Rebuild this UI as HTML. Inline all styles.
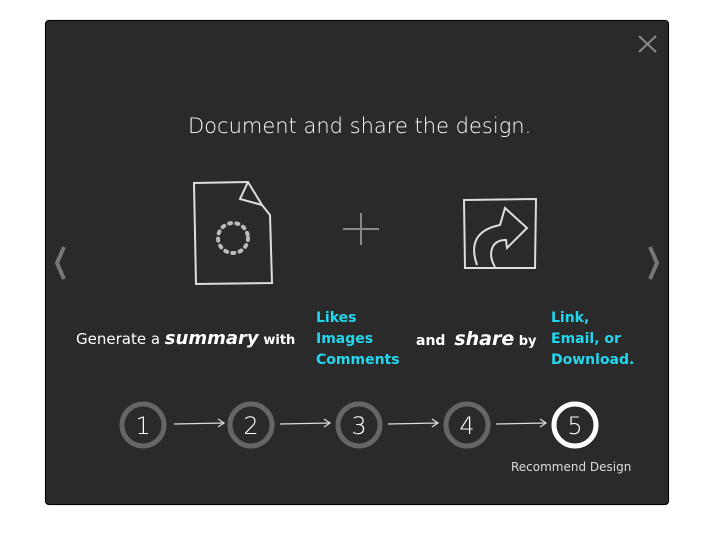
<!DOCTYPE html>
<html><head><style>
body{margin:0;width:722px;height:540px;background:#fff;position:relative;font-family:"DejaVu Sans","Liberation Sans",sans-serif;overflow:hidden}
#p{position:absolute;left:45px;top:20px;width:622px;height:483px;background:#2a2a2a;border:1px solid #000;border-radius:4px;box-shadow:0 0 1px #888}
.t{position:absolute;color:#fff;white-space:nowrap}
.c{color:#22d8f0;font-weight:bold;font-size:14px;line-height:21px}
</style></head><body>
<div id="p"></div>
<svg style="position:absolute;left:0;top:0" width="722" height="540">
<g stroke="#888" stroke-width="2"><line x1="639" y1="36" x2="656" y2="52"/><line x1="656" y1="36" x2="639" y2="52"/></g>
<g fill="none" stroke="#777" stroke-width="4"><polyline points="64,247 57,263 64,279"/><polyline points="650,247 657,263 650,279"/></g>
<g fill="none" stroke="#ddd" stroke-width="2">
<path d="M194,183 L248,182 L262,205 L270,215 L272,283 L196,284 Z"/>
<path d="M248,182 L240,199 L262,205"/>
<path d="M464,200 L536,199 L535,268 L465,268 Z"/>
<path d="M477,265 C470,245 475,230 500,225 L505,208 L527,228 L507,248 L506,240 C490,240 488,255 495,267"/>
</g>
<g stroke="#888" stroke-width="2"><line x1="343" y1="229" x2="379" y2="229"/><line x1="361" y1="213" x2="361" y2="245"/></g>
<g fill="none" stroke="#bbb" stroke-width="4" stroke-linecap="round">
<circle cx="233" cy="238" r="15" stroke-dasharray="2 5.4"/>
</g>
<g fill="none" stroke="#666" stroke-width="5">
<circle cx="143" cy="425" r="21"/><circle cx="251" cy="425" r="21"/><circle cx="359" cy="425" r="21"/><circle cx="467" cy="425" r="21"/>
</g>
<circle cx="575" cy="425" r="21" fill="none" stroke="#fff" stroke-width="5"/>
<g stroke="#ddd" stroke-width="1.2" fill="none">
<line x1="174" y1="424" x2="224" y2="423"/><polyline points="218,419 224,423 218,427"/>
<line x1="280" y1="424" x2="330" y2="423"/><polyline points="324,419 330,423 324,427"/>
<line x1="388" y1="424" x2="438" y2="423"/><polyline points="432,419 438,423 432,427"/>
<line x1="496" y1="424" x2="546" y2="423"/><polyline points="540,419 546,423 540,427"/>
</g>
<g fill="#fff" font-family="DejaVu Sans,sans-serif" font-size="24" font-weight="200" text-anchor="middle">
<text x="143" y="434">1</text><text x="251" y="434">2</text><text x="359" y="434">3</text><text x="467" y="434">4</text><text x="575" y="434">5</text>
</g>
</svg>
<div class="t" style="left:188px;top:114px;font-size:21px;font-weight:300">Document and share the design.</div>
<div class="t" style="left:76px;top:328px;font-size:15px">Generate a <b style="font-style:italic;font-size:18px">summary</b> <b style="font-size:13px">with</b></div>
<div class="t c" style="left:316px;top:308px">Likes<br>Images<br>Comments</div>
<div class="t" style="left:416px;top:328px;font-size:14px"><b>and</b> &nbsp;<b style="font-style:italic;font-size:19px">share</b> <b style="font-size:13px">by</b></div>
<div class="t c" style="left:551px;top:308px">Link,<br>Email, or<br>Download.</div>
<div class="t" style="left:511px;top:460px;font-size:12px;color:#ddd">Recommend Design</div>
</body></html>
